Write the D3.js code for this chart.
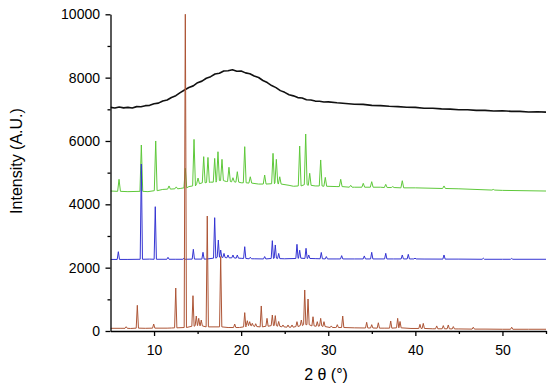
<!DOCTYPE html>
<html>
<head>
<meta charset="utf-8">
<script src="https://cdn.jsdelivr.net/npm/d3@7"></script>
<style>
    body { margin: 0; background: #fff; }
    text { font-family: "Liberation Sans", Arial, sans-serif; }
</style>
</head>
<body>
<div id="chart"></div>
<script>

// tick values
const xTicks = [10, 20, 30, 40, 50];
const xMinorTicks = [15, 25, 35, 45, 55];
const yTicks = [0, 2000, 4000, 6000, 8000, 10000];
const yMinorTicks = [1000, 3000, 5000, 7000, 9000];

// amorphous pattern (black), [2theta, intensity]
const blackTrace = [
    [5, 7060], [5.5, 7040], [6, 7075], [6.5, 7045], [7, 7060], [7.5, 7040], [8, 7085], [8.5, 7080],
    [9, 7115], [9.5, 7125], [10, 7175], [10.5, 7195], [11, 7265], [11.5, 7295], [12, 7375], [12.5, 7430],
    [13, 7525], [13.5, 7610], [14, 7690], [14.5, 7740], [15, 7840], [15.5, 7890], [16, 7980], [16.5, 8030],
    [17, 8115], [17.5, 8140], [18, 8210], [18.5, 8220], [19, 8250], [19.5, 8200], [20, 8210], [20.5, 8150],
    [21, 8125], [21.5, 8050], [22, 8005], [22.5, 7910], [23, 7845], [23.5, 7750], [24, 7685], [24.5, 7590],
    [25, 7535], [25.5, 7460], [26, 7425], [26.5, 7370], [27, 7355], [27.5, 7300], [28, 7295], [28.5, 7260],
    [29, 7255], [29.5, 7230], [30, 7235], [31, 7205], [32, 7185], [33, 7160], [34, 7155], [35, 7125],
    [36, 7115], [37, 7095], [38, 7085], [39, 7065], [40, 7060], [41, 7035], [42, 7035], [43, 7015],
    [44, 7005], [45, 6985], [46, 6985], [47, 6965], [48, 6965], [49, 6945], [50, 6955], [51, 6935],
    [52, 6935], [53, 6915], [54, 6925], [55, 6910]
];

// crystalline patterns: baseline [2theta, intensity], peaks [2theta, top, foot]
const greenBase = [
    [5, 4420], [7, 4400], [9.3, 4400], [11, 4470], [13, 4500], [14, 4560], [16.5, 4700], [18.3, 4720],
    [20, 4680], [22, 4640], [25.5, 4600], [26, 4570], [28.5, 4580], [31, 4560], [33, 4540], [36, 4540],
    [40, 4520], [45, 4490], [50, 4440], [55, 4420]
];
const greenPeaks = [
    [5.98, 4790, 4410], [8.54, 5873, 4410], [10.19, 6000, 4430], [11.72, 4580, 4480], [12.55, 4550, 4490],
    [13.59, 5137, 4520], [14.59, 6050, 4580], [15.05, 4830, 4650], [15.7, 5505, 4680], [16.19, 5480, 4690],
    [16.96, 5450, 4700], [17.34, 5660, 4750], [17.8, 5420, 4750], [18.6, 5170, 4720], [19.06, 4840, 4710],
    [19.56, 5030, 4700], [20.41, 5820, 4680], [21.05, 4870, 4670], [22.7, 4925, 4640], [23.66, 5610, 4650],
    [24.04, 5420, 4680], [24.43, 4870, 4640], [26.72, 5840, 4580], [27.41, 6220, 4620], [27.87, 4980, 4600],
    [29.13, 5400, 4580], [29.66, 4850, 4570], [31.43, 4790, 4560], [32.58, 4600, 4540], [34.02, 4663, 4540],
    [34.99, 4715, 4540], [36.6, 4630, 4530], [37.4, 4560, 4530], [38.5, 4745, 4520], [43.29, 4580, 4500],
    [48.95, 4470, 4450]
];

const blueBase = [
    [5, 2260], [7, 2260], [9.5, 2270], [12.5, 2265], [16, 2270], [20, 2295], [21.5, 2280], [25, 2280],
    [28.5, 2285], [31, 2275], [33, 2275], [37.5, 2275], [41, 2272], [45, 2270], [50, 2265], [55, 2265]
];
const bluePeaks = [
    [5.9, 2504, 2260], [8.54, 5273, 2265], [10.14, 3925, 2265], [11.6, 2327, 2265], [13.44, 2300, 2265],
    [14.51, 2580, 2270], [15.62, 2485, 2270], [16.96, 3578, 2300], [17.38, 2873, 2330], [17.65, 2557, 2330],
    [18.03, 2450, 2320], [18.49, 2400, 2310], [19.06, 2400, 2310], [19.56, 2400, 2300], [20.41, 2662, 2290],
    [21.05, 2330, 2280], [22.7, 2350, 2275], [23.58, 2852, 2290], [23.92, 2716, 2300], [24.31, 2450, 2285],
    [26.41, 2737, 2290], [26.72, 2550, 2300], [27.45, 2611, 2290], [27.76, 2400, 2290], [29.2, 2480, 2280],
    [29.78, 2350, 2275], [31.54, 2380, 2275], [34.14, 2370, 2275], [34.99, 2485, 2275], [36.6, 2453, 2275],
    [38.5, 2400, 2275], [39.19, 2420, 2275], [39.96, 2300, 2275], [43.29, 2400, 2270], [47.8, 2300, 2265],
    [51.06, 2290, 2265]
];

const redBase = [
    [5, 85], [6.2, 85], [7.3, 80], [9, 85], [11.5, 90], [12, 95], [18.5, 110], [19.8, 110], [30.8, 110],
    [33, 100], [36.5, 90], [39.5, 80], [42, 70], [45, 65], [48, 60], [50, 55], [53, 55], [55, 55]
];
const redPeaks = [
    [6.8, 135, 85], [8.08, 811, 90], [9.96, 220, 90], [12.49, 1357, 100], [13.59, 10500, 110],
    [14.47, 1115, 150], [14.85, 473, 170], [15.13, 400, 170], [15.42, 347, 160], [16.11, 3630, 130],
    [17.65, 2350, 130], [19.26, 220, 110], [20.41, 580, 130], [20.71, 325, 170], [20.98, 295, 170],
    [21.28, 243, 160], [21.67, 230, 140], [22.31, 790, 130], [22.97, 400, 150], [23.58, 505, 170],
    [23.92, 485, 170], [24.31, 300, 150], [24.8, 190, 130], [25.38, 190, 120], [25.84, 190, 120],
    [26.41, 295, 140], [26.91, 347, 170], [27.3, 1295, 200], [27.68, 1010, 200], [28.25, 450, 160],
    [28.74, 295, 150], [29.13, 400, 160], [29.51, 295, 140], [30.35, 160, 110], [31.04, 200, 110],
    [31.66, 473, 110], [34.41, 275, 95], [34.99, 200, 95], [35.75, 260, 90], [37.17, 316, 90],
    [37.97, 400, 100], [38.24, 300, 100], [40.53, 210, 80], [40.91, 240, 80], [42.45, 160, 70],
    [43.21, 170, 70], [43.78, 190, 70], [44.36, 140, 65], [46.65, 120, 60], [51.06, 120, 55]
];


let margin = {left: 110.5, right: 546, top: 14.3, bottom: 331};

let svg = d3.select("#chart").append("svg")
    .attr("width", 550)
    .attr("height", 390)
    .style("background", "#fff");

let x = d3.scaleLinear().domain([5, 55]).range([margin.left, margin.right]);
let y = d3.scaleLinear().domain([0, 10000]).range([margin.bottom, margin.top]);

// turn baseline + peak list into one ordered point list
function buildSeries(base, peaks, halfWidth) {
    let pts = base.filter(b => !peaks.some(p => Math.abs(p[0] - b[0]) < halfWidth + 0.02));
    peaks.forEach(p => {
        pts.push([p[0] - halfWidth, p[2]]);
        pts.push([p[0], p[1]]);
        pts.push([p[0] + halfWidth, p[2]]);
    });
    return pts.sort((a, b) => a[0] - b[0]);
}

svg.append("defs").append("clipPath")
    .attr("id", "plot-clip")
    .append("rect")
    .attr("x", margin.left)
    .attr("y", margin.top)
    .attr("width", margin.right - margin.left)
    .attr("height", margin.bottom - margin.top + 2);

let line = d3.line()
    .x(d => x(d[0]))
    .y(d => y(d[1]));

let traces = [
    {data: blackTrace, color: "#111", width: 1.6},
    {data: buildSeries(greenBase, greenPeaks, 0.16), color: "#5ec83a", width: 1},
    {data: buildSeries(blueBase, bluePeaks, 0.13), color: "#3434d2", width: 1},
    {data: buildSeries(redBase, redPeaks, 0.13), color: "#ad5536", width: 1}
];

let plot = svg.append("g").attr("clip-path", "url(#plot-clip)");
plot.selectAll(".trace")
    .data(traces)
    .enter().append("path")
    .attr("class", "trace")
    .attr("fill", "none")
    .attr("stroke", d => d.color)
    .attr("stroke-width", d => d.width)
    .attr("stroke-linejoin", "round")
    .attr("d", d => line(d.data));

// axes
let xAxis = d3.axisBottom(x).tickValues(xTicks).tickSize(5).tickSizeOuter(0).tickPadding(9)
    .tickFormat(d3.format("d"));
let xMinor = d3.axisBottom(x).tickValues(xMinorTicks).tickSize(3).tickFormat("");
let yAxis = d3.axisLeft(y).tickValues(yTicks).tickSize(5).tickSizeOuter(0).tickPadding(5.5)
    .tickFormat(d3.format("d"));
let yMinor = d3.axisLeft(y).tickValues(yMinorTicks).tickSize(3).tickFormat("");

svg.append("g").attr("transform", `translate(0, ${margin.bottom})`).call(xAxis);
svg.append("g").attr("transform", `translate(0, ${margin.bottom})`).call(xMinor)
    .select(".domain").remove();
svg.append("g").attr("transform", `translate(${margin.left}, 0)`).call(yAxis);
svg.append("g").attr("transform", `translate(${margin.left}, 0)`).call(yMinor)
    .select(".domain").remove();

svg.selectAll(".domain, .tick line")
    .attr("stroke", "#000")
    .attr("stroke-width", 1.3);
svg.selectAll(".tick text")
    .attr("fill", "#000")
    .style("font-size", "14px")
    .style("font-family", "'Liberation Sans', Arial, sans-serif");

// axis titles
svg.append("text")
    .attr("transform", "translate(22, 161) rotate(-90)")
    .attr("text-anchor", "middle")
    .style("font-size", "16px")
    .text("Intensity (A.U.)");

svg.append("text")
    .attr("x", 326)
    .attr("y", 380)
    .attr("text-anchor", "middle")
    .style("font-size", "16px")
    .text("2 θ (°)");

</script>
</body>
</html>
